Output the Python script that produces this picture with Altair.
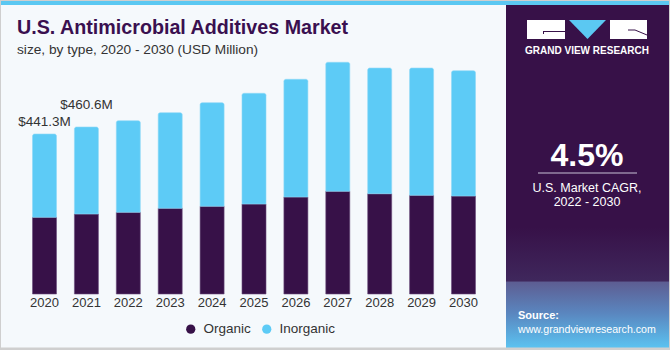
import altair as alt
import pandas as pd

# ---- data ----
years = ["2020", "2021", "2022", "2023", "2024", "2025", "2026", "2027", "2028", "2029", "2030"]
organic = [211.6, 220.7, 225.3, 236.4, 241.9, 248.2, 267.5, 283.3, 276.6, 272.2, 270.3]
inorganic = [229.7, 239.9, 252.7, 263.7, 285.7, 305.4, 324.7, 355.8, 346.7, 351.1, 345.6]
label_years = ["2020", "2021"]
label_texts = ["$441.3M", "$460.6M"]
series = ["Organic", "Inorganic"]
series_colors = ["#371148", "#5DCBF6"]

title_text = "U.S. Antimicrobial Additives Market"
subtitle_text = "size, by type, 2020 - 2030 (USD Million)"
cagr_value = "4.5%"
cagr_lines = ["U.S. Market CAGR,", "2022 - 2030"]
brand = "GRAND VIEW RESEARCH"
source_lines = ["Source:", "www.grandviewresearch.com"]

FONT = "Liberation Sans"
DARK = "#371148"

df = pd.DataFrame({
    "year": years,
    "organic": organic,
    "inorganic": inorganic,
})
df["total"] = df["organic"] + df["inorganic"]
df["s_org"] = series[0]
df["s_inorg"] = series[1]

lab = pd.DataFrame({"year": label_years, "text": label_texts})
lab = lab.merge(df[["year", "total"]], on="year")

one = pd.DataFrame({"d": [0]})

xscale = alt.Scale(domain=years, range=[32.5, 475.5], paddingInner=0.427, paddingOuter=0)
yscale = alt.Scale(domain=[0, 700], range=[294, 294 - 700 * 0.36256])
cscale = alt.Scale(domain=series, range=series_colors)


def rect(x, x2, y, y2, **kw):
    return alt.Chart(one).mark_rect(**kw).encode(
        x=alt.value(x), x2=alt.value(x2), y=alt.value(y), y2=alt.value(y2))


def txt(t, x, y, **kw):
    return alt.Chart(one).mark_text(text=t, **kw).encode(x=alt.value(x), y=alt.value(y))


def rule(x, x2, y, y2, **kw):
    return alt.Chart(one).mark_rule(**kw).encode(
        x=alt.value(x), x2=alt.value(x2), y=alt.value(y), y2=alt.value(y2))


left_bg = rect(1, 506, 5, 347.5, color="#F5F9FC")
top_strip = rect(1, 669, 1, 5, color="#5BC8F2")
right_panel = rect(506, 669, 5, 347.5, color={
    "gradient": "linear", "x1": 0, "y1": 0, "x2": 0, "y2": 1,
    "stops": [
        {"offset": 0.0, "color": DARK},
        {"offset": 0.65, "color": DARK},
        {"offset": 0.805, "color": "#3F275C"},
        {"offset": 0.81, "color": "#5D5E93"},
        {"offset": 0.9, "color": "#5A86BF"},
        {"offset": 1.0, "color": "#5BC2F0"},
    ]})

# logo
logo_l = rect(527, 565, 20, 39, color="white")
logo_r = rect(610, 647, 20, 39, color="white")
logo_tri = alt.Chart(one).mark_point(
    shape="M-1,-0.52L1,-0.52L0,0.52Z", filled=True, size=1369, color="#5BC8F2", opacity=1
).encode(x=alt.value(587.5), y=alt.value(29.5))
logo_g1 = rule(543, 565, 31.5, 31.5, color=DARK, strokeWidth=1)
logo_g2 = rule(543.5, 543.5, 31.5, 34, color=DARK, strokeWidth=1)
logo_r1 = rule(635, 647, 30, 35, color=DARK, strokeWidth=1)
logo_r2 = rule(628, 635, 30, 30, color=DARK, strokeWidth=1)
brand_t = txt(brand, 587, 51, font=FONT, fontSize=10, fontWeight="bold", color="white",
              align="center", baseline="middle")

# titles
title_t = txt(title_text, 17, 34, font=FONT, fontSize=19.7, fontWeight="bold", color="#3A1050",
              align="left", baseline="alphabetic")
sub_t = txt(subtitle_text, 17, 54, font=FONT, fontSize=13.7, color="#333333",
            align="left", baseline="alphabetic")

# bars
bar_org = alt.Chart(df).mark_bar(stroke="#6B4F7D", strokeWidth=0.6).encode(
    x=alt.X("year:O", scale=xscale, axis=None),
    y=alt.Y("organic:Q", scale=yscale, axis=None),
    y2=alt.value(294),
    color=alt.Color("s_org:N", scale=cscale, title=None,
                    legend=alt.Legend(orient="none", legendX=184, legendY=322, direction="horizontal",
                                      symbolType="circle", symbolSize=85, symbolStrokeWidth=0,
                                      labelFont=FONT, labelFontSize=13.5, labelColor="#333333",
                                      labelOffset=6, columnPadding=9, padding=0)),
)
bar_inorg = alt.Chart(df).mark_bar(cornerRadiusTopLeft=2, cornerRadiusTopRight=2,
                                   stroke="#8ED9F7", strokeWidth=0.6).encode(
    x=alt.X("year:O", scale=xscale, axis=None),
    y=alt.Y("total:Q", scale=yscale, axis=None),
    y2=alt.Y2("organic:Q"),
    color=alt.Color("s_inorg:N", scale=cscale, title=None),
)

lab1 = alt.Chart(lab).transform_filter(alt.datum.year == label_years[0]).mark_text(
    font=FONT, fontSize=13.5, color="#333333", align="center", baseline="alphabetic", dy=-8
).encode(x=alt.X("year:O", scale=xscale, axis=None), y=alt.Y("total:Q", scale=yscale, axis=None),
         text="text:N")
lab2 = alt.Chart(lab).transform_filter(alt.datum.year == label_years[1]).mark_text(
    font=FONT, fontSize=13.5, color="#333333", align="center", baseline="alphabetic", dy=-18
).encode(x=alt.X("year:O", scale=xscale, axis=None), y=alt.Y("total:Q", scale=yscale, axis=None),
         text="text:N")

year_t = alt.Chart(df).mark_text(font=FONT, fontSize=13, color="#333333",
                                 align="center", baseline="middle").encode(
    x=alt.X("year:O", scale=xscale, axis=None), y=alt.value(303), text="year:N")

# right panel texts
cagr_t = txt(cagr_value, 587, 156, font=FONT, fontSize=32, fontWeight="bold", color="white",
             align="center", baseline="middle")
cagr_rule = rule(538, 637, 173, 173, color="#C9C2D6", strokeWidth=1)
cagr_l1 = txt(cagr_lines[0], 587, 188, font=FONT, fontSize=12.5, color="white",
              align="center", baseline="middle")
cagr_l2 = txt(cagr_lines[1], 587, 202, font=FONT, fontSize=12.5, color="white",
              align="center", baseline="middle")
src1 = txt(source_lines[0], 518, 316, font=FONT, fontSize=11, fontWeight="bold", color="white",
           align="left", baseline="middle")
src2 = txt(source_lines[1], 518, 330, font=FONT, fontSize=10.6, color="white",
           align="left", baseline="middle")

chart = alt.layer(
    left_bg, top_strip, right_panel,
    logo_l, logo_r, logo_tri, logo_g1, logo_g2, logo_r1, logo_r2, brand_t,
    title_t, sub_t,
    bar_org, bar_inorg, lab1, lab2, year_t,
    cagr_t, cagr_rule, cagr_l1, cagr_l2, src1, src2,
).resolve_scale(color="shared").properties(
    width=670, height=350, autosize=alt.AutoSizeParams(type="none"), padding=0,
    background="#CFCFCF",
).configure_view(strokeWidth=0)

chart.save("out.html", embed_options={"renderer": "svg", "actions": False})
